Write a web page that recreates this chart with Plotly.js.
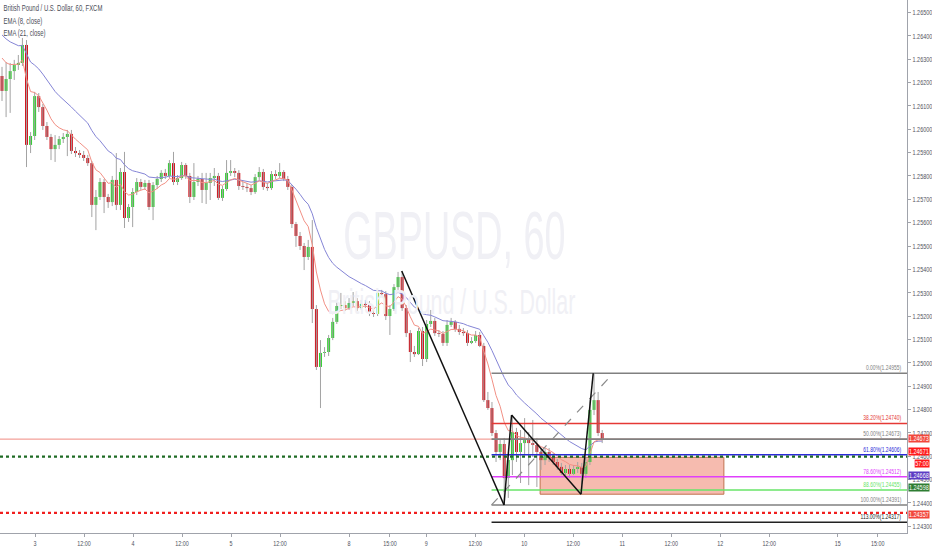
<!DOCTYPE html>
<html><head><meta charset="utf-8">
<script src="https://cdn.plot.ly/plotly-3.0.1.min.js"></script>
<style>html,body{margin:0;padding:0;background:#fff;overflow:hidden}#chart{width:932px;height:550px}</style>
</head><body><div id="chart"></div>
<script>
// ---- DATA (GBPUSD 60, FXCM) ----
const openP = [1.26228,1.26164,1.26215,1.26249,1.26275,1.26284,1.26361,1.25933,1.25971,1.26142,
1.26095,1.26014,1.25967,1.25915,1.25933,1.25958,1.25967,1.25980,1.25907,1.25898,
1.25890,1.25877,1.25855,1.25676,1.25710,1.25774,1.25710,1.25688,1.25783,1.25676,
1.25817,1.25620,1.25667,1.25731,1.25774,1.25753,1.25770,1.25667,1.25761,1.25787,
1.25813,1.25800,1.25855,1.25774,1.25791,1.25847,1.25800,1.25710,1.25774,1.25787,
1.25740,1.25770,1.25791,1.25800,1.25706,1.25744,1.25813,1.25821,1.25813,1.25757,
1.25753,1.25748,1.25731,1.25795,1.25817,1.25753,1.25748,1.25808,1.25800,1.25817,
1.25787,1.25753,1.25594,1.25543,1.25500,1.25453,1.25496,1.25230,1.24982,1.25042,
1.25046,1.25106,1.25175,1.25243,1.25247,1.25234,1.25256,1.25264,1.25234,1.25252,
1.25247,1.25213,1.25209,1.25299,1.25294,1.25200,1.25230,1.25324,1.25367,1.25234,
1.25127,1.25046,1.25037,1.25136,1.25016,1.25166,1.25179,1.25127,1.25123,1.25085,
1.25162,1.25175,1.25145,1.25132,1.25127,1.25085,1.25093,1.25119,1.25072,1.24840,
1.24806,1.24699,1.24618,1.24652,1.24506,1.24583,1.24703,1.24618,1.24656,1.24669,
1.24656,1.24648,1.24618,1.24583,1.24618,1.24596,1.24575,1.24554,1.24528,1.24545,
1.24524,1.24545,1.24554,1.24524,1.24575,1.24798,1.24840,1.24699];
const highP = [1.26267,1.26288,1.26284,1.26297,1.26318,1.26391,1.26382,1.25988,1.26160,1.26155,
1.26108,1.26031,1.25980,1.25975,1.25971,1.25984,1.25997,1.25997,1.25924,1.25911,
1.25907,1.25890,1.25864,1.25740,1.25791,1.25787,1.25723,1.25800,1.25898,1.25834,
1.25903,1.25680,1.25748,1.25791,1.25787,1.25783,1.25783,1.25774,1.25800,1.25825,
1.25830,1.25868,1.25903,1.25804,1.25860,1.25855,1.25813,1.25855,1.25800,1.25813,
1.25813,1.25813,1.25834,1.25813,1.25757,1.25868,1.25868,1.25834,1.25825,1.25774,
1.25770,1.25761,1.25808,1.25838,1.25830,1.25770,1.25821,1.25825,1.25855,1.25825,
1.25800,1.25761,1.25603,1.25560,1.25513,1.25526,1.25611,1.25247,1.25097,1.25067,
1.25119,1.25192,1.25260,1.25299,1.25264,1.25277,1.25303,1.25277,1.25269,1.25269,
1.25264,1.25230,1.25312,1.25312,1.25307,1.25247,1.25337,1.25389,1.25393,1.25247,
1.25140,1.25072,1.25149,1.25153,1.25183,1.25226,1.25192,1.25140,1.25136,1.25183,
1.25192,1.25183,1.25162,1.25149,1.25140,1.25110,1.25136,1.25132,1.25085,1.24875,
1.24832,1.24712,1.24669,1.24678,1.24605,1.24776,1.24721,1.24712,1.24763,1.24703,
1.24755,1.24678,1.24635,1.24635,1.24635,1.24613,1.24588,1.24571,1.24562,1.24562,
1.24562,1.24575,1.24571,1.24596,1.24840,1.24955,1.24875,1.24712];
const lowP = [1.26121,1.26052,1.26070,1.26211,1.26254,1.26271,1.25838,1.25898,1.25954,1.26074,
1.25997,1.25954,1.25868,1.25860,1.25915,1.25941,1.25885,1.25894,1.25881,1.25877,
1.25864,1.25843,1.25624,1.25568,1.25697,1.25641,1.25663,1.25671,1.25654,1.25654,
1.25577,1.25603,1.25581,1.25718,1.25740,1.25740,1.25654,1.25611,1.25744,1.25774,
1.25787,1.25791,1.25761,1.25761,1.25783,1.25787,1.25684,1.25697,1.25757,1.25684,
1.25680,1.25697,1.25757,1.25697,1.25693,1.25736,1.25800,1.25795,1.25740,1.25740,
1.25731,1.25718,1.25723,1.25783,1.25740,1.25736,1.25740,1.25787,1.25791,1.25778,
1.25740,1.25577,1.25496,1.25483,1.25397,1.25440,1.25170,1.24969,1.24806,1.25025,
1.25029,1.25097,1.25166,1.25230,1.25222,1.25226,1.25243,1.25222,1.25226,1.25234,
1.25200,1.25196,1.25200,1.25282,1.25183,1.25119,1.25222,1.25312,1.25222,1.25110,
1.25003,1.25025,1.25033,1.24986,1.25003,1.25153,1.25115,1.25110,1.25072,1.25072,
1.25153,1.25132,1.25119,1.25115,1.25072,1.25080,1.25085,1.25067,1.24832,1.24798,
1.24686,1.24575,1.24583,1.24391,1.24421,1.24519,1.24575,1.24485,1.24605,1.24476,
1.24596,1.24468,1.24541,1.24562,1.24575,1.24562,1.24541,1.24519,1.24519,1.24506,
1.24519,1.24528,1.24438,1.24506,1.24562,1.24776,1.24686,1.24656];
const closeP = [1.26164,1.26215,1.26249,1.26275,1.26284,1.26361,1.25933,1.25971,1.26142,1.26095,
1.26014,1.25967,1.25915,1.25933,1.25958,1.25967,1.25980,1.25907,1.25898,1.25890,
1.25877,1.25855,1.25676,1.25710,1.25774,1.25710,1.25688,1.25783,1.25676,1.25817,
1.25620,1.25667,1.25731,1.25774,1.25753,1.25770,1.25667,1.25761,1.25787,1.25813,
1.25800,1.25855,1.25774,1.25791,1.25847,1.25800,1.25710,1.25774,1.25787,1.25740,
1.25770,1.25791,1.25800,1.25706,1.25744,1.25813,1.25821,1.25813,1.25757,1.25753,
1.25748,1.25731,1.25795,1.25817,1.25753,1.25748,1.25808,1.25800,1.25817,1.25787,
1.25753,1.25594,1.25543,1.25500,1.25453,1.25496,1.25230,1.24982,1.25042,1.25046,
1.25106,1.25175,1.25243,1.25247,1.25234,1.25256,1.25264,1.25234,1.25252,1.25247,
1.25213,1.25209,1.25299,1.25294,1.25200,1.25230,1.25324,1.25367,1.25234,1.25127,
1.25046,1.25037,1.25136,1.25016,1.25166,1.25179,1.25127,1.25123,1.25085,1.25162,
1.25175,1.25145,1.25132,1.25127,1.25085,1.25093,1.25119,1.25072,1.24840,1.24806,
1.24699,1.24618,1.24652,1.24506,1.24583,1.24703,1.24618,1.24656,1.24669,1.24656,
1.24648,1.24618,1.24583,1.24618,1.24596,1.24575,1.24554,1.24528,1.24545,1.24524,
1.24545,1.24554,1.24524,1.24575,1.24798,1.24840,1.24699,1.24671];

// EMA values at the first visible bar
const ema8Start = 1.26305;
const ema21Start = 1.26404;

// time axis labels (bar index position, text)
const xTickPos = [8.1,20.1,32.1,44.1,56.1,68.1,85,95,103.9,115.9,127.9,139.9,151.9,163.9,175.9,187.9,204.7,214.5];
const xTickText = ["3","12:00","4","12:00","5","12:00","8","15:00","9","12:00","10","12:00","11","12:00","12","12:00","15","15:00"];

// price axis ticks
const yTickVals = [1.243,1.244,1.245,1.246,1.247,1.248,1.249,1.250,1.251,1.252,1.253,1.254,1.255,1.256,1.257,1.258,1.259,1.260,1.261,1.262,1.263,1.264,1.265];

// Fibonacci retracement drawing
const fibRatios = ["0.00%","38.20%","50.00%","61.80%","78.60%","88.60%","100.00%","113.00%"];
const fibPrices = [1.24955,1.24740,1.24673,1.24606,1.24512,1.24455,1.24391,1.24317];
const fibAnchorX = [119.9,149.7];
const fibAnchorY = [1.24391,1.24955];

// zigzag pattern drawing (bar index, price)
const zigX = [97.9,122.95,124.8,141.8,144.8];
const zigY = [1.25393,1.24391,1.24776,1.24437,1.24955];

// rectangle drawing
const rectX = [131.8,176.8];
const rectY = [1.24437,1.24595];

// horizontal lines
const lastLinePrice = 1.24673;
const greenLinePrice = 1.24598;
const redLinePrice = 1.24357;

// price tags on the scale
const tagTexts = ["1.24673","1.24671","57:00","1.24668","1.24598","1.24357"];
const tagPrices = [1.24673,1.24671,1.24671,1.24668,1.24598,1.24357];

// ---- STYLES ----
const FONT = '"Liberation Sans",Arial,sans-serif';
const UP = '#2fcf2f', DOWN = '#d0121b', WICK = '#a3a3a3';
const fibColors = ['#808080','#e53935','#808080','#2b2bd8','#e040fb','#69e569','#808080','#222222'];
const tagColors = ['#f2473c','#ff1a1a','#ff1a1a','#5b3cc4','#2e7d32','#f2473c'];
const tagShift = [0.5,-11.6,-23.6,-35,-30.6,-1.5];
const xRange = [-0.49, 221.65];
const yRange = [1.242709, 1.265535];

// ---- BUILD ----
const n = closeP.length;
const idx = closeP.map((_, i) => i);

function ema(vals, len, start) {
  const k = 2 / (len + 1);
  const out = [];
  let e = start;
  for (let i = 0; i < vals.length; i++) {
    if (i > 0) e = vals[i] * k + e * (1 - k);
    out.push(e);
  }
  return out;
}

const wx = [], wy = [];
const gx = [], gb = [], gh = [], rx = [], rb = [], rh = [];
const MINH = 0.00003;
for (let i = 0; i < n; i++) {
  wx.push(i, i, null); wy.push(lowP[i], highP[i], null);
  if (closeP[i] > openP[i]) { gx.push(i); gb.push(openP[i]); gh.push(Math.max(closeP[i] - openP[i], MINH)); }
  else { rx.push(i); rb.push(closeP[i]); rh.push(Math.max(openP[i] - closeP[i], MINH)); }
}

const traces = [
  {type:'scatter', mode:'lines', x:wx, y:wy, line:{color:WICK, width:1}, hoverinfo:'skip', showlegend:false},
  {type:'bar', x:gx, base:gb, y:gh, width:0.72, marker:{color:UP, line:{width:0}}, hoverinfo:'skip', showlegend:false},
  {type:'bar', x:rx, base:rb, y:rh, width:0.72, marker:{color:DOWN, line:{width:0}}, hoverinfo:'skip', showlegend:false},
  {type:'scatter', mode:'lines', x:idx, y:ema(closeP, 21, ema21Start), line:{color:'#8585d6', width:1}, hoverinfo:'skip', showlegend:false},
  {type:'scatter', mode:'lines', x:idx, y:ema(closeP, 8, ema8Start), line:{color:'#f29085', width:1}, hoverinfo:'skip', showlegend:false}
];

const shapes = [];
shapes.push({type:'rect', xref:'x', yref:'y', x0:rectX[0], x1:rectX[1], y0:rectY[0], y1:rectY[1],
  fillcolor:'rgba(238,120,95,0.5)', line:{color:'#c0724f', width:1}, layer:'below'});
shapes.push({type:'line', xref:'paper', yref:'y', x0:0, x1:1, y0:lastLinePrice, y1:lastLinePrice, line:{color:'#f08a80', width:1}});
fibPrices.forEach((p, k) => {
  shapes.push({type:'line', xref:'x', yref:'y', x0:fibAnchorX[0], x1:xRange[1], y0:p, y1:p, line:{color:fibColors[k], width:1.6}});
});
shapes.push({type:'line', xref:'paper', yref:'y', x0:0, x1:1, y0:greenLinePrice, y1:greenLinePrice, line:{color:'#1e6b24', width:2.2, dash:'dot'}});
shapes.push({type:'line', xref:'paper', yref:'y', x0:0, x1:1, y0:redLinePrice, y1:redLinePrice, line:{color:'#f01e1e', width:2.2, dash:'dot'}});
shapes.push({type:'line', xref:'x', yref:'y', x0:fibAnchorX[0], x1:fibAnchorX[1], y0:fibAnchorY[0], y1:fibAnchorY[1], line:{color:'#8a8a8a', width:1.2, dash:'dash'}});
for (let k = 0; k < zigX.length - 1; k++) {
  shapes.push({type:'line', xref:'x', yref:'y', x0:zigX[k], x1:zigX[k+1], y0:zigY[k], y1:zigY[k+1], line:{color:'#111111', width:1.5}});
}

const ann = [];
const annSqueeze = [];
// watermark
ann.push({xref:'paper', yref:'paper', x:0.5006, y:0.559, text:'GBPUSD, 60', showarrow:false,
  font:{family:FONT, size:68, color:'#f0f0f5'}, xanchor:'center', yanchor:'middle'}); annSqueeze.push(0.555);
ann.push({xref:'paper', yref:'paper', x:0.498, y:0.4334, text:'British Pound / U.S. Dollar', showarrow:false,
  font:{family:FONT, size:35, color:'#f0f0f5'}, xanchor:'center', yanchor:'middle'}); annSqueeze.push(0.61);
// legend texts
const legendLines = ['British Pound / U.S. Dollar, 60, FXCM','EMA (8, close)','EMA (21, close)'];
const legendY = [0.985, 0.9606, 0.938];
legendLines.forEach((t, k) => { ann.push({xref:'paper', yref:'paper', x:0, y:legendY[k], xshift:2, text:t, showarrow:false,
  xanchor:'left', yanchor:'middle', font:{family:FONT, size:8.5, color:'#4a4d57'}}); annSqueeze.push(0.7); });
// fib labels
fibPrices.forEach((p, k) => { ann.push({xref:'paper', yref:'y', x:1, y:p, xshift:-4, yshift:-1, text:fibRatios[k] + '(' + p.toFixed(5) + ')',
  showarrow:false, xanchor:'right', yanchor:'bottom', font:{family:FONT, size:7.5, color:fibColors[k]}}); annSqueeze.push(0.66); });
// price tags
tagTexts.forEach((t, k) => { ann.push({xref:'paper', yref:'y', x:1.0254, y:tagPrices[k], yshift:tagShift[k], text:t,
  showarrow:false, xanchor:'right', yanchor:'middle', bgcolor:tagColors[k], borderpad:0.2,
  font:{family:FONT, size:7, color:'#ffffff'}}); annSqueeze.push(0.78); });

const layout = {
  width:932, height:550,
  margin:{l:0, r:25, t:0, b:17, pad:0},
  paper_bgcolor:'#ffffff', plot_bgcolor:'#ffffff',
  showlegend:false, barmode:'overlay', hovermode:false,
  xaxis:{range:xRange, showgrid:false, zeroline:false, showline:true, linecolor:'#a0a3ab', linewidth:1,
    tickmode:'array', tickvals:xTickPos, ticktext:xTickText, ticks:'outside', ticklen:3, tickcolor:'#a0a3ab',
    tickfont:{family:FONT, size:7.5, color:'#50535e'}, fixedrange:true},
  yaxis:{range:yRange, side:'right', showgrid:false, zeroline:false, showline:true, linecolor:'#a0a3ab', linewidth:1,
    tickmode:'array', tickvals:yTickVals, ticktext:yTickVals.map(v => v.toFixed(5)), ticks:'outside', ticklen:3, tickcolor:'#a0a3ab',
    tickfont:{family:FONT, size:8, color:'#50535e'}, fixedrange:true},
  shapes:shapes, annotations:ann
};

// condensed look of the original: squeeze text horizontally around its anchor
function squeeze(el, s, mode) {
  if (!el) return;
  const bb = el.getBBox();
  if (!bb.width) return;
  const px = mode === 'left' ? bb.x : (mode === 'right' ? bb.x + bb.width : bb.x + bb.width / 2);
  const prev = el.getAttribute('transform') || '';
  el.setAttribute('transform', prev + ' translate(' + px + ',0) scale(' + s + ',1) translate(' + (-px) + ',0)');
}

const gd = document.getElementById('chart');
Plotly.newPlot(gd, traces, layout, {displayModeBar:false, staticPlot:true}).then(() => {
  gd.querySelectorAll('.xtick text').forEach(t => squeeze(t, 0.72, 'center'));
  gd.querySelectorAll('.ytick text').forEach(t => squeeze(t, 0.68, 'left'));
  gd.querySelectorAll('g.annotation').forEach(g => {
    const k = +g.getAttribute('data-index');
    const a = ann[k];
    const inner = g.querySelector('g.annotation-text-g') || g;
    squeeze(inner, annSqueeze[k], a.xanchor === 'left' ? 'left' : (a.xanchor === 'right' ? 'right' : 'center'));
  });
});
</script>
</body></html>
